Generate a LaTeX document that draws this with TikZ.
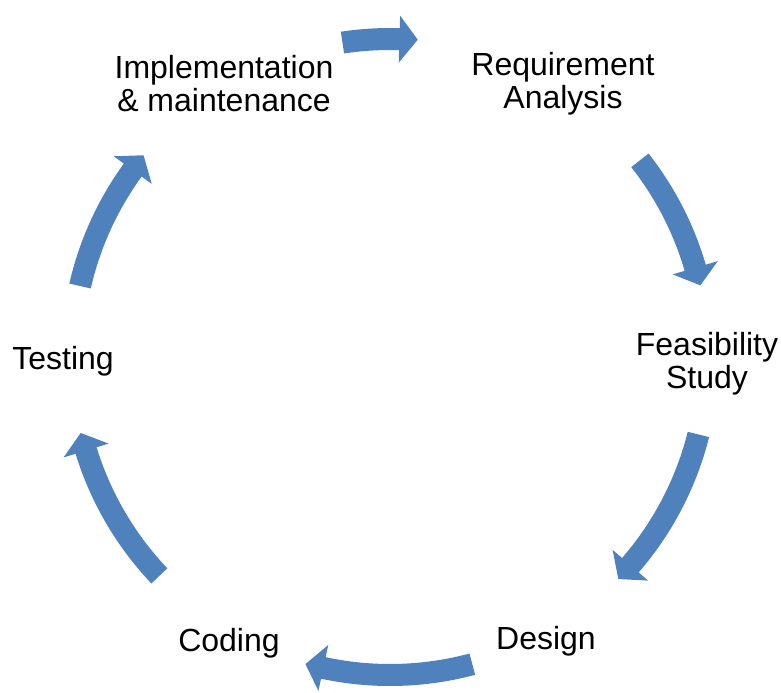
\documentclass[tikz,border=0pt]{standalone}
\usepackage{fontspec}
\setmainfont{Liberation Sans}
\definecolor{cycleblue}{HTML}{4F81BD}
\tikzset{
  stagelabel/.style={align=center, font=\fontsize{16}{16.5}\selectfont, inner sep=0pt},
  cyclearrow/.style={fill=cycleblue, draw=none}
}
% block arrow along the ring: tail angle, head base angle
\newcommand{\ringarrow}[2]{%
  \fill[cyclearrow] (#1:329) arc[start angle=#1, end angle=#2, radius=329]
    -- (#2:341.5) -- ({#2-3.3}:318.5) -- (#2:294.5) -- (#2:307)
    arc[start angle=#2, end angle=#1, radius=307] -- cycle;}

\begin{document}
\begin{tikzpicture}[x=0.5pt, y=0.5pt]
  \useasboundingbox (0,0) rectangle (781,692);
  \node[stagelabel] (req) at (563,608) {Requirement\\Analysis};
  \node[stagelabel] (feas) at (707,328) {Feasibility\\Study};
  \node[stagelabel] (design) at (546,51) {Design};
  \node[stagelabel] (coding) at (229,49) {Coding};
  \node[stagelabel] (testing) at (63,331) {Testing};
  \node[stagelabel] (impl) at (224,608) {Implementation\\\& maintenance};
  \begin{scope}[shift={(390,335)}]
    \foreach \tail/\head in {98.6/88.3, 38.2/16.3, -14.1/-40.9, -75/-102.1, -136.5/-162.9, 167.1/144}
      {\ringarrow{\tail}{\head}}
  \end{scope}
\end{tikzpicture}
\end{document}
